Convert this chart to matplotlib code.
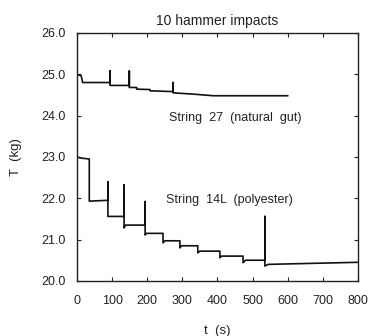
import matplotlib
matplotlib.use("Agg")
import matplotlib.pyplot as plt
import numpy as np

# String 27 (natural gut): time (s) and tension (kg); repeated times are hammer spikes
GUT_T = [0, 12, 16, 94, 94, 94, 149, 149, 149, 170, 170, 208, 208, 274, 274, 274, 330, 388, 600]
GUT_TENSION = [25.0, 24.96, 24.8, 24.8, 25.08, 24.73, 24.73, 25.08, 24.68, 24.68, 24.64, 24.63, 24.6,
               24.58, 24.8, 24.55, 24.52, 24.48, 24.48]

# String 14L (polyester)
POLY_T = [0, 12, 35, 35, 88, 88, 88, 134, 134, 134, 138, 194, 194, 194, 198, 245, 245, 250,
          293, 293, 298, 344, 344, 350, 407, 407, 412, 473, 473, 480, 535, 535, 535, 545, 800]
POLY_TENSION = [23.0, 22.97, 22.95, 21.93, 21.95, 22.4, 21.56, 21.56, 22.32, 21.28, 21.35, 21.35,
                21.92, 21.11, 21.15, 21.15, 20.92, 20.97, 20.97, 20.8, 20.85, 20.85, 20.68, 20.72,
                20.72, 20.56, 20.6, 20.6, 20.44, 20.5, 20.5, 21.56, 20.36, 20.4, 20.45]

X_TICKS = np.arange(0, 801, 100)
Y_TICKS = np.arange(20.0, 26.01, 1.0)

plt.rcParams["font.family"] = ["Liberation Sans", "DejaVu Sans"]

fig = plt.figure(figsize=(3.72, 3.36), dpi=100)
ax = fig.add_axes([0.207, 0.164, 0.755, 0.738])

ax.plot(GUT_T, GUT_TENSION, color="#111111", lw=1.2)
ax.plot(POLY_T, POLY_TENSION, color="#111111", lw=1.2)

ax.set_xlim(0, 800)
ax.set_ylim(20.0, 26.0)
ax.set_xticks(X_TICKS)
ax.set_xticklabels([f"{v:d}" for v in X_TICKS])
ax.set_yticks(Y_TICKS)
ax.set_yticklabels([f"{v:.1f}" for v in Y_TICKS])
ax.tick_params(direction="in", top=True, right=True, length=3, width=0.8,
               labelsize=9, colors="#222222")
ax.tick_params(axis="x", pad=10)
ax.tick_params(axis="y", pad=8)
for spine in ax.spines.values():
    spine.set_linewidth(1.0)
    spine.set_color("#222222")

ax.set_title("10 hammer impacts", fontsize=10, pad=6, color="#222222")
ax.set_xlabel("t  (s)", fontsize=9.5, labelpad=13, color="#222222")
ax.set_ylabel("T  (kg)", fontsize=9.5, labelpad=14, color="#222222")

ax.text(450, 23.95, "String  27  (natural  gut)", fontsize=9, ha="center", va="center", color="#222222")
ax.text(435, 21.95, "String  14L  (polyester)", fontsize=9, ha="center", va="center", color="#222222")

fig.savefig("out.png", dpi=100)
